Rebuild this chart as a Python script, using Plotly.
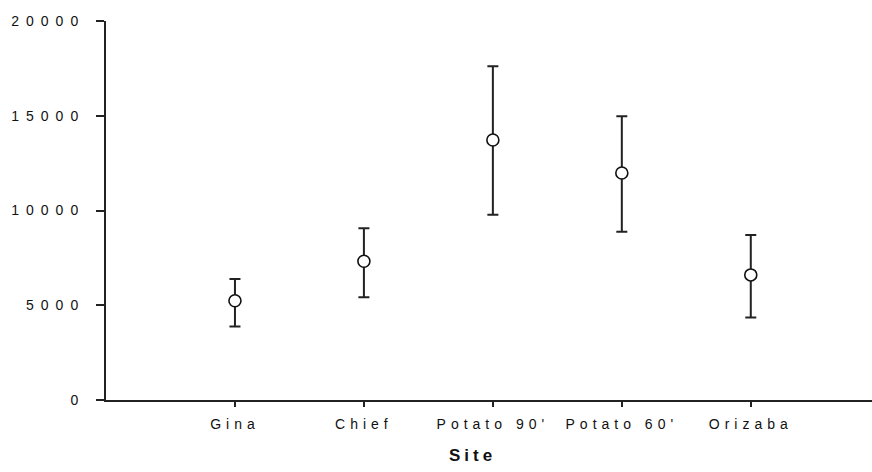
import plotly.graph_objects as go

# Site means with asymmetric error bars
sites = ["Gina", "Chief", "Potato 90'", "Potato 60'", "Orizaba"]
means = [5240, 7320, 13720, 11980, 6600]
upper = [6390, 9060, 17610, 14970, 8710]
lower = [3880, 5420, 9780, 8880, 4360]
y_ticks = [0, 5000, 10000, 15000, 20000]

err_plus = [u - m for u, m in zip(upper, means)]
err_minus = [m - l for m, l in zip(means, lower)]

fig = go.Figure(
    go.Scatter(
        x=sites,
        y=means,
        mode="markers",
        marker=dict(symbol="circle", size=12, color="white",
                    line=dict(color="#111111", width=1.6)),
        error_y=dict(type="data", symmetric=False, array=err_plus,
                     arrayminus=err_minus, color="#222222",
                     thickness=2, width=5.5),
        showlegend=False,
    )
)

tick_font = dict(family="Liberation Sans, Arial, sans-serif", size=14, color="#111111")

fig.update_layout(
    width=872,
    height=472,
    margin=dict(l=106, r=0, t=21, b=72),
    plot_bgcolor="white",
    paper_bgcolor="white",
    xaxis=dict(
        type="category",
        range=[-1, 4.94],
        showline=True, linecolor="#222222", linewidth=2,
        ticks="outside", ticklen=5, tickwidth=1.5, tickcolor="#222222",
        showgrid=False, zeroline=False,
        tickfont=tick_font,
        ticklabelstandoff=5,
    ),
    yaxis=dict(
        range=[0, 20000],
        tickvals=y_ticks,
        ticktext=[str(v) for v in y_ticks],
        showline=True, linecolor="#222222", linewidth=2,
        ticks="outside", ticklen=8, tickwidth=1.5, tickcolor="#222222",
        showgrid=False, zeroline=False,
        tickfont=tick_font,
        ticklabelstandoff=8,
    ),
    annotations=[
        dict(text="<b>Site</b>", xref="paper", yref="paper",
             x=(472 - 106) / 766, y=-(455 - 400) / 379,
             xanchor="center", yanchor="middle", showarrow=False,
             font=dict(family="Liberation Sans, Arial, sans-serif", size=17, color="#111111"))
    ],
)

# widen the tracking of the tick labels and the axis caption
post = """
var gd = document.getElementById('{plot_id}');
function spaceText(){
  gd.querySelectorAll('.xtick text').forEach(function(t){
    t.setAttribute('letter-spacing', '5px');
  });
  gd.querySelectorAll('.ytick text').forEach(function(t){
    t.setAttribute('letter-spacing', '7px');
  });
  gd.querySelectorAll('.annotation-text').forEach(function(t){
    t.setAttribute('letter-spacing', '4px');
  });
}
spaceText();
gd.on('plotly_afterplot', spaceText);
"""

fig.write_html("out.html", post_script=post)
